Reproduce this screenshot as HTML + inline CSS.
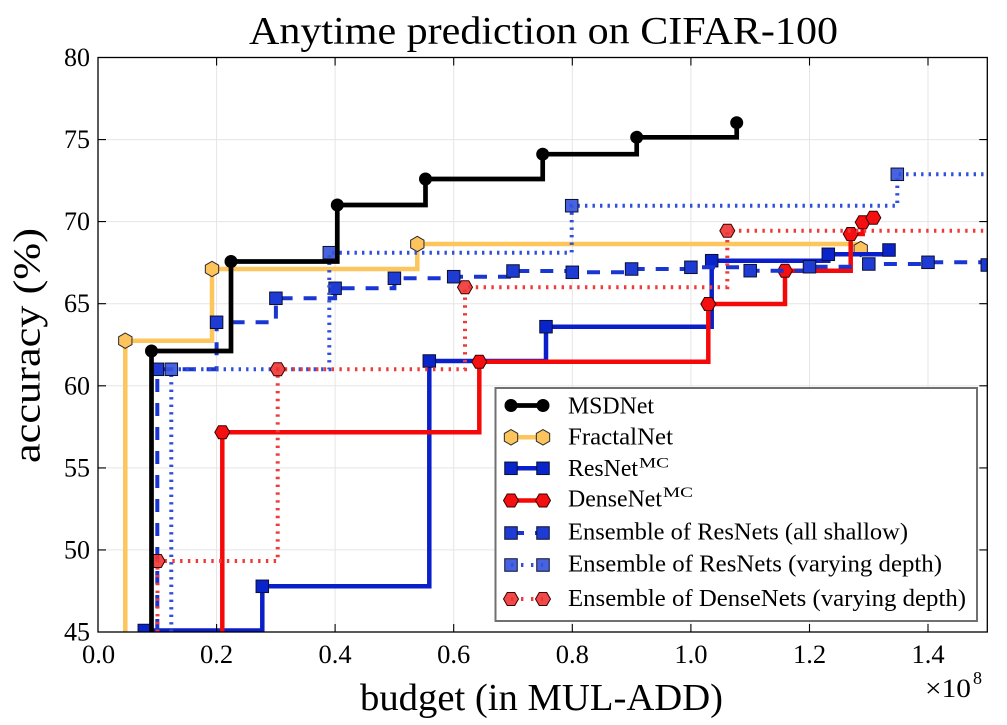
<!DOCTYPE html>
<html>
<head>
<meta charset="utf-8">
<style>
html,body{margin:0;padding:0;background:#fff;}
svg{display:block;}
text{font-family:"Liberation Serif","DejaVu Serif",serif;fill:#000;}
</style>
</head>
<body>
<svg width="1007" height="725" viewBox="0 0 1007 725" xmlns="http://www.w3.org/2000/svg">
<defs>
  <clipPath id="clip"><rect x="98" y="57.5" width="889.3" height="574.5"/></clipPath>
  <g id="sq"><rect x="-6.25" y="-6.25" width="12.5" height="12.5" stroke="#0a0f30" stroke-width="1"/></g>
  <g id="hexh"><polygon points="0,-7.7 6.67,-3.85 6.67,3.85 0,7.7 -6.67,3.85 -6.67,-3.85" stroke="#2a2a2a" stroke-width="1"/></g>
  <g id="hexH"><polygon points="7.5,0 3.75,6.5 -3.75,6.5 -7.5,0 -3.75,-6.5 3.75,-6.5" stroke="#3a0000" stroke-width="1"/></g>
  <g id="circ"><circle cx="0" cy="0" r="6.5" fill="#000"/></g>
</defs>

<rect x="0" y="0" width="1007" height="725" fill="#fff"/>

<!-- grid -->
<g stroke="#e5e5e5" stroke-width="1">
  <line x1="216.6" y1="57.5" x2="216.6" y2="632"/>
  <line x1="335.1" y1="57.5" x2="335.1" y2="632"/>
  <line x1="453.7" y1="57.5" x2="453.7" y2="632"/>
  <line x1="572.3" y1="57.5" x2="572.3" y2="632"/>
  <line x1="690.9" y1="57.5" x2="690.9" y2="632"/>
  <line x1="809.5" y1="57.5" x2="809.5" y2="632"/>
  <line x1="928" y1="57.5" x2="928" y2="632"/>
  <line x1="98" y1="549.9" x2="987.3" y2="549.9"/>
  <line x1="98" y1="467.9" x2="987.3" y2="467.9"/>
  <line x1="98" y1="385.8" x2="987.3" y2="385.8"/>
  <line x1="98" y1="303.7" x2="987.3" y2="303.7"/>
  <line x1="98" y1="221.6" x2="987.3" y2="221.6"/>
  <line x1="98" y1="139.6" x2="987.3" y2="139.6"/>
</g>

<g clip-path="url(#clip)">
  <!-- FractalNet -->
  <path d="M125.3,632 V340.7 H212 V269 H417.3 V244 H860.7 V249" fill="none" stroke="#fcc65c" stroke-width="4.5"/>
  <g fill="#fdc35c">
    <use href="#hexh" x="125.3" y="340.7"/>
    <use href="#hexh" x="212" y="269"/>
    <use href="#hexh" x="417.3" y="244"/>
    <use href="#hexh" x="860.7" y="249"/>
  </g>

  <!-- ResNet MC -->
  <path d="M144.3,632 V630.5 H262.3 V586.3 H429.3 V361 H546 V326.7 H711.7 V260.7 H828.3 V254.3 H889 V250" fill="none" stroke="#0a1fca" stroke-width="4.5"/>
  <g fill="#0a24cc">
    <use href="#sq" x="144.3" y="630.5"/>
    <use href="#sq" x="262.3" y="586.3"/>
    <use href="#sq" x="429.3" y="361"/>
    <use href="#sq" x="546" y="326.7"/>
    <use href="#sq" x="711.7" y="260.7"/>
    <use href="#sq" x="828.3" y="254.3"/>
    <use href="#sq" x="889" y="250"/>
  </g>

  <!-- DenseNet MC -->
  <path d="M222.3,632 V432.3 H479.3 V361.7 H708.3 V304 H785 V270.7 H850.7 V234 H862.7 V222.3 H873.3 V217.7" fill="none" stroke="#f50808" stroke-width="4.5"/>
  <g fill="#f41010">
    <use href="#hexH" x="222.3" y="432.3"/>
    <use href="#hexH" x="479.3" y="361.7"/>
    <use href="#hexH" x="708.3" y="304"/>
    <use href="#hexH" x="785" y="270.7"/>
    <use href="#hexH" x="850.7" y="234"/>
    <use href="#hexH" x="862.7" y="222.3"/>
    <use href="#hexH" x="873.3" y="217.7"/>
  </g>

  <!-- Ensemble ResNets all shallow (dashed) -->
  <path d="M157.3,632 V369.3 H216.6 V322.3 H275.9 V298.3 H335.1 V288.3 H394.4 V278.3 H453.7 V276.7 H513 V271 H572.3 V272.3 H631.6 V269 H690.9 V267.3 H750.2 V270.7 H809.5 V266.7 H868.8 V264 H928 V262.3 H987.3 V265" fill="none" stroke="#1a36d2" stroke-width="4" stroke-dasharray="13 11"/>
  <g fill="#1e3bd4">
    <use href="#sq" x="157.3" y="369.3"/>
    <use href="#sq" x="216.6" y="322.3"/>
    <use href="#sq" x="275.9" y="298.3"/>
    <use href="#sq" x="335.1" y="288.3"/>
    <use href="#sq" x="394.4" y="278.3"/>
    <use href="#sq" x="453.7" y="276.7"/>
    <use href="#sq" x="513" y="271"/>
    <use href="#sq" x="572.3" y="272.3"/>
    <use href="#sq" x="631.6" y="269"/>
    <use href="#sq" x="690.9" y="267.3"/>
    <use href="#sq" x="750.2" y="270.7"/>
    <use href="#sq" x="809.5" y="266.7"/>
    <use href="#sq" x="868.8" y="264"/>
    <use href="#sq" x="928" y="262.3"/>
    <use href="#sq" x="987.3" y="265"/>
  </g>

  <!-- Ensemble ResNets varying depth (dotted) -->
  <path d="M171.3,632 V369.3 H329.3 V252.7 H571.7 V205.7 H897.3 V174.3 H990" fill="none" stroke="#3050dc" stroke-width="4" stroke-dasharray="2.4 5.1"/>
  <g fill="#3452dc" fill-opacity="0.9">
    <use href="#sq" x="171.3" y="369.3"/>
    <use href="#sq" x="329.3" y="252.7"/>
    <use href="#sq" x="571.7" y="205.7"/>
    <use href="#sq" x="897.3" y="174.3"/>
  </g>

  <!-- Ensemble DenseNets varying depth (dotted) -->
  <path d="M157.5,632 V561 H277.7 V369.3 H465 V287.3 H727.3 V230.7 H990" fill="none" stroke="#ee3a3a" stroke-width="4" stroke-dasharray="2.4 5.4"/>
  <g fill="#f03434" fill-opacity="0.9">
    <use href="#hexH" x="157.5" y="561"/>
    <use href="#hexH" x="277.7" y="369.3"/>
    <use href="#hexH" x="465" y="287.3"/>
    <use href="#hexH" x="727.3" y="230.7"/>
  </g>

  <!-- MSDNet -->
  <path d="M151.5,632 V351 H231 V261.5 H337.3 V205 H425.5 V179 H542.7 V154.2 H636.7 V137.3 H736.7 V122.7" fill="none" stroke="#000" stroke-width="4.7"/>
  <use href="#circ" x="151.5" y="351"/>
  <use href="#circ" x="231" y="261.5"/>
  <use href="#circ" x="337.3" y="205"/>
  <use href="#circ" x="425.5" y="179"/>
  <use href="#circ" x="542.7" y="154.2"/>
  <use href="#circ" x="636.7" y="137.3"/>
  <use href="#circ" x="736.7" y="122.7"/>
</g>

<!-- frame -->
<rect x="98" y="57.5" width="889.3" height="574.5" fill="none" stroke="#000" stroke-width="1.3"/>

<!-- ticks -->
<g stroke="#000" stroke-width="1.1">
  <path d="M216.6,632 v-8 M335.1,632 v-8 M453.7,632 v-8 M572.3,632 v-8 M690.9,632 v-8 M809.5,632 v-8 M928,632 v-8"/>
  <path d="M216.6,57.5 v8 M335.1,57.5 v8 M453.7,57.5 v8 M572.3,57.5 v8 M690.9,57.5 v8 M809.5,57.5 v8 M928,57.5 v8"/>
  <path d="M98,549.9 h8 M98,467.9 h8 M98,385.8 h8 M98,303.7 h8 M98,221.6 h8 M98,139.6 h8"/>
  <path d="M987.3,549.9 h-8 M987.3,467.9 h-8 M987.3,385.8 h-8 M987.3,303.7 h-8 M987.3,221.6 h-8 M987.3,139.6 h-8"/>
</g>

<!-- y tick labels -->
<g font-size="26" text-anchor="end">
  <text x="90" y="640.5">45</text>
  <text x="90" y="558.4">50</text>
  <text x="90" y="476.4">55</text>
  <text x="90" y="394.3">60</text>
  <text x="90" y="312.2">65</text>
  <text x="90" y="230.1">70</text>
  <text x="90" y="148.1">75</text>
  <text x="90" y="66">80</text>
</g>

<!-- x tick labels -->
<g font-size="26.5" text-anchor="middle">
  <text x="98.5" y="663">0.0</text>
  <text x="216.6" y="663">0.2</text>
  <text x="335.1" y="663">0.4</text>
  <text x="453.7" y="663">0.6</text>
  <text x="572.3" y="663">0.8</text>
  <text x="690.9" y="663">1.0</text>
  <text x="809.5" y="663">1.2</text>
  <text x="928" y="663">1.4</text>
</g>

<!-- offset text -->
<text x="925" y="697" font-size="26" textLength="46" lengthAdjust="spacingAndGlyphs">×10</text>
<text x="973" y="684" font-size="18">8</text>

<!-- axis labels -->
<text x="360" y="710" font-size="38" textLength="363" lengthAdjust="spacingAndGlyphs">budget (in MUL-ADD)</text>
<text transform="translate(39.5,345.5) rotate(-90)" x="0" y="0" font-size="38" text-anchor="middle" textLength="235" lengthAdjust="spacingAndGlyphs">accuracy (%)</text>

<!-- title -->
<text x="249" y="43.3" font-size="39" textLength="589" lengthAdjust="spacingAndGlyphs">Anytime prediction on CIFAR-100</text>

<!-- legend -->
<rect x="495.5" y="388" width="481.5" height="233" fill="#fff" stroke="#707070" stroke-width="2"/>
<g>
  <line x1="511" y1="405.5" x2="543" y2="405.5" stroke="#000" stroke-width="4.7"/>
  <use href="#circ" x="511" y="405.5"/>
  <use href="#circ" x="543" y="405.5"/>

  <line x1="511" y1="437.3" x2="543" y2="437.3" stroke="#fcc65c" stroke-width="4.5"/>
  <g fill="#fdc35c"><use href="#hexh" x="511" y="437.3"/><use href="#hexh" x="543" y="437.3"/></g>

  <line x1="511" y1="468.3" x2="543" y2="468.3" stroke="#0a1fca" stroke-width="4.5"/>
  <g fill="#0a24cc"><use href="#sq" x="511" y="468.3"/><use href="#sq" x="543" y="468.3"/></g>

  <line x1="511" y1="500.5" x2="543" y2="500.5" stroke="#f50808" stroke-width="4.5"/>
  <g fill="#f41010"><use href="#hexH" x="511" y="500.5"/><use href="#hexH" x="543" y="500.5"/></g>

  <line x1="511" y1="533" x2="543" y2="533" stroke="#1a36d2" stroke-width="4" stroke-dasharray="13 11"/>
  <g fill="#1e3bd4"><use href="#sq" x="511" y="533"/><use href="#sq" x="543" y="533"/></g>

  <line x1="511" y1="565" x2="543" y2="565" stroke="#3050dc" stroke-width="4" stroke-dasharray="2.4 7.6"/>
  <g fill="#3452dc" fill-opacity="0.9"><use href="#sq" x="511" y="565"/><use href="#sq" x="543" y="565"/></g>

  <line x1="511" y1="599" x2="543" y2="599" stroke="#ee3a3a" stroke-width="4" stroke-dasharray="2.4 7.6"/>
  <g fill="#f03434" fill-opacity="0.9"><use href="#hexH" x="511" y="599"/><use href="#hexH" x="543" y="599"/></g>
</g>
<g font-size="24">
  <text x="568" y="413.5" textLength="86" lengthAdjust="spacingAndGlyphs">MSDNet</text>
  <text x="568" y="444.5" textLength="105" lengthAdjust="spacingAndGlyphs">FractalNet</text>
  <text x="568" y="476" textLength="70" lengthAdjust="spacingAndGlyphs">ResNet</text>
  <text x="639" y="467.3" font-size="15" textLength="30" lengthAdjust="spacingAndGlyphs">MC</text>
  <text x="568" y="506.7" textLength="94" lengthAdjust="spacingAndGlyphs">DenseNet</text>
  <text x="663" y="497" font-size="15" textLength="30" lengthAdjust="spacingAndGlyphs">MC</text>
  <text x="568" y="539.3" textLength="340" lengthAdjust="spacingAndGlyphs">Ensemble of ResNets (all shallow)</text>
  <text x="568" y="571.7" textLength="374" lengthAdjust="spacingAndGlyphs">Ensemble of ResNets (varying depth)</text>
  <text x="568" y="606" textLength="398" lengthAdjust="spacingAndGlyphs">Ensemble of DenseNets (varying depth)</text>
</g>
</svg>
</body>
</html>
